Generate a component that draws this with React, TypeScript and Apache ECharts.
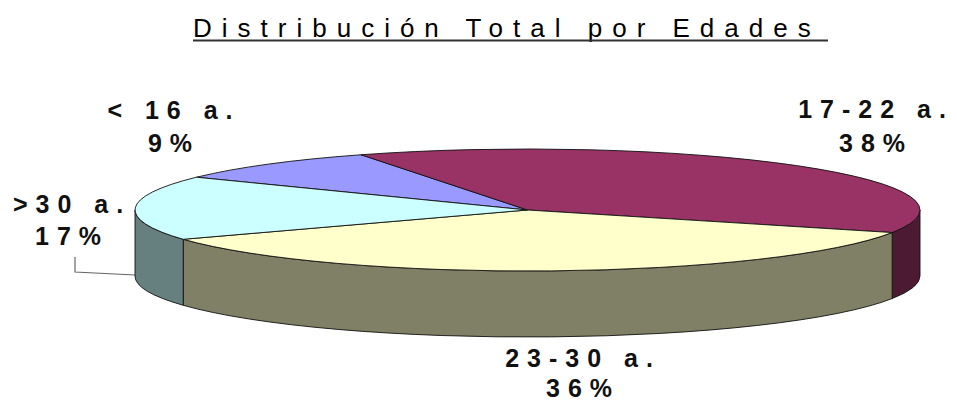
import React, { useEffect, useRef } from "react";
import * as echarts from "echarts";

// ---- data ----
const categories = ["< 16 a.", "17-22 a.", "23-30 a.", ">30 a."];
const values = [9, 38, 36, 17];
const titleText = "Distribución Total por Edades";

// ---- styles / layout ----
const topColors = ["#9999FF", "#993366", "#FFFFCC", "#CCFFFF"];
const sideColors = ["#4D4D80", "#4D1A33", "#808066", "#668080"];
const CX = 527.5;
const CY = 210;
const RX = 392.5;
const RY = 61;
const DEPTH = 66;
const START_ANGLE = -57.5; // degrees, clockwise from 12 o'clock
// label line centres: [x, yName, yPercent]
const labelPos: [number, number, number][] = [
  [174, 110, 143],
  [876, 109, 143],
  [583, 357.5, 387.5],
  [72, 204, 236],
];

const total = values.reduce((a, b) => a + b, 0);
const starts: number[] = [];
{
  let acc = START_ANGLE;
  for (const v of values) {
    starts.push(acc);
    acc += (v / total) * 360;
  }
}

function pt(theta: number, dy = 0): string {
  const r = (theta * Math.PI) / 180;
  const x = CX + RX * Math.sin(r);
  const y = CY - RY * Math.cos(r) + dy;
  return `${x.toFixed(2)},${y.toFixed(2)}`;
}

export default function App() {
  const ref = useRef<HTMLDivElement>(null);

  useEffect(() => {
    if (!ref.current) return;
    const chart = echarts.init(ref.current, undefined, { renderer: "svg" });
    const seriesData = values.map((v, i) => ({ name: categories[i], value: v }));

    const font = "'Liberation Sans', Arial, sans-serif";
    const labelStyle = {
      fontSize: 25,
      fontWeight: "bold",
      fontFamily: font,
      lineHeight: 26,
      fill: "#111111",
      textAlign: "center",
      textVerticalAlign: "middle",
    };

    const labelTexts: any[] = [];
    categories.forEach((c, i) => {
      labelTexts.push({
        type: "text",
        x: labelPos[i][0],
        y: labelPos[i][1],
        style: { ...labelStyle, text: c },
      });
      labelTexts.push({
        type: "text",
        x: labelPos[i][0],
        y: labelPos[i][2],
        style: { ...labelStyle, text: `${Math.round((values[i] / total) * 100)}%` },
      });
    });

    chart.setOption({
      animation: false,
      backgroundColor: "#ffffff",
      series: [
        {
          type: "custom",
          name: "side",
          coordinateSystem: "none",
          silent: true,
          z: 1,
          data: seriesData,
          renderItem: (params: any, api: any) => {
            const i = params.dataIndex;
            const a0 = starts[i];
            const a1 = a0 + (api.value(0) / total) * 360;
            const s = Math.max(a0, 90);
            const e = Math.min(a1, 270);
            if (e <= s) return { type: "group", children: [] };
            const d =
              `M${pt(s)}A${RX},${RY} 0 0 1 ${pt(e)}` +
              `L${pt(e, DEPTH)}A${RX},${RY} 0 0 0 ${pt(s, DEPTH)}Z`;
            return {
              type: "path",
              shape: { pathData: d },
              style: { fill: sideColors[i], stroke: "#111111", lineWidth: 0.9 },
            };
          },
        },
        {
          type: "custom",
          name: "top",
          coordinateSystem: "none",
          silent: true,
          z: 2,
          data: seriesData,
          renderItem: (params: any, api: any) => {
            const i = params.dataIndex;
            const a0 = starts[i];
            const a1 = a0 + (api.value(0) / total) * 360;
            const large = a1 - a0 > 180 ? 1 : 0;
            const d = `M${CX},${CY}L${pt(a0)}A${RX},${RY} 0 ${large} 1 ${pt(a1)}Z`;
            return {
              type: "path",
              shape: { pathData: d },
              style: { fill: topColors[i], stroke: "#111111", lineWidth: 0.9 },
            };
          },
        },
      ],
      graphic: [
        {
          type: "text",
          x: 193,
          y: 27.7,
          style: {
            text: titleText,
            fontSize: 26,
            fontFamily: font,
            fill: "#000000",
            textAlign: "left",
            textVerticalAlign: "middle",
          },
        },
        {
          type: "line",
          shape: { x1: 193, y1: 40.5, x2: 828, y2: 40.5 },
          style: { stroke: "#333333", lineWidth: 2 },
        },
        {
          type: "polyline",
          shape: { points: [[75, 257], [75, 272], [135, 275]] },
          style: { stroke: "#666666", lineWidth: 1.2, fill: null },
        },
        ...labelTexts,
      ],
    });

    return () => chart.dispose();
  }, []);

  return (
    <>
      <style>{`#pie3d text{letter-spacing:8px}#pie3d text[style*="26px"]{letter-spacing:10px}`}</style>
      <div
        id="pie3d"
        ref={ref}
        style={{ position: "fixed", left: 0, top: 0, width: 957, height: 401 }}
      />
    </>
  );
}
